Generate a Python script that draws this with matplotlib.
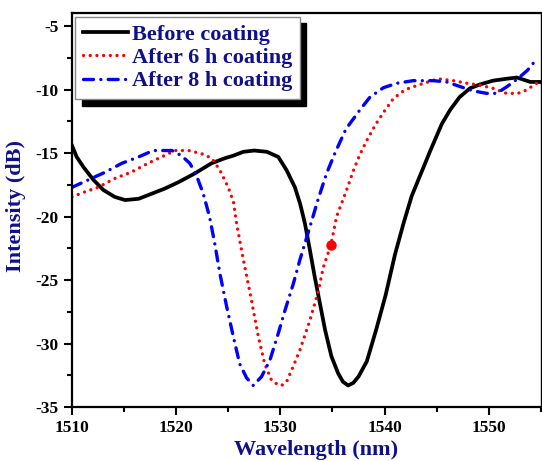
import numpy as np
import matplotlib
matplotlib.use("Agg")
import matplotlib.pyplot as plt
from matplotlib.ticker import MultipleLocator

plt.rcParams['font.family'] = ['Liberation Serif', 'DejaVu Serif']
plt.rcParams['font.weight'] = 'bold'
plt.rcParams['axes.unicode_minus'] = False

### data
before_x = [1510.0, 1510.45, 1511.1, 1512.05, 1513.0, 1514.1, 1515.1, 1516.4, 1517.65, 1518.9,
            1520.2, 1521.8, 1523.4, 1524.7, 1525.5, 1526.45, 1527.5, 1528.7, 1529.8, 1530.6,
            1531.4, 1531.9, 1532.36, 1532.84, 1533.3, 1533.8, 1534.3, 1534.9, 1535.55, 1536.0,
            1536.5, 1537.0, 1537.5, 1538.3, 1539.2, 1540.1, 1541.0, 1541.8, 1542.6, 1543.4,
            1544.4, 1545.5, 1546.3, 1547.2, 1548.2, 1549.15, 1550.4, 1551.7, 1552.7, 1554.0, 1555.0]
before_y = [-14.4, -15.3, -16.1, -17.1, -17.9, -18.45, -18.7, -18.6, -18.2, -17.8,
            -17.3, -16.6, -15.8, -15.4, -15.2, -14.9, -14.8, -14.9, -15.3, -16.35,
            -17.7, -19.0, -20.55, -22.65, -24.75, -26.85, -28.95, -31.0, -32.35, -33.0,
            -33.3, -33.1, -32.6, -31.4, -28.9, -26.2, -23.0, -20.6, -18.4, -16.8,
            -14.8, -12.7, -11.6, -10.6, -9.9, -9.6, -9.3, -9.15, -9.05, -9.4, -9.4]

h6_x = [1510.0, 1511.25, 1512.5, 1514.1, 1515.7, 1517.3, 1518.6, 1519.9, 1521.2, 1522.45,
        1523.4, 1524.2, 1525.0, 1525.5, 1525.8, 1526.4, 1527.1, 1527.9, 1528.5, 1529.16,
        1529.7, 1530.12, 1530.6, 1531.08, 1531.88, 1532.84, 1533.64, 1534.12, 1534.86, 1535.4,
        1536.36, 1537.0, 1537.64, 1538.3, 1539.1, 1539.9, 1540.85, 1542.0, 1543.4, 1545.15,
        1546.6, 1547.9, 1549.15, 1550.4, 1551.7, 1552.8, 1553.6, 1554.6, 1555.0]
h6_y = [-18.45, -18.05, -17.7, -17.0, -16.5, -15.8, -15.3, -14.8, -14.8, -15.05,
        -15.4, -16.35, -17.7, -18.85, -20.55, -23.2, -26.05, -29.5, -31.6, -32.9,
        -33.2, -33.3, -33.0, -32.1, -30.5, -28.15, -25.9, -24.0, -22.2, -20.0,
        -17.9, -16.4, -15.1, -14.0, -12.8, -11.8, -10.7, -10.0, -9.6, -9.15,
        -9.3, -9.5, -9.65, -9.9, -10.3, -10.3, -10.05, -9.5, -9.4]

h8_x = [1510.0, 1511.6, 1513.2, 1514.8, 1516.4, 1517.8, 1518.6, 1519.6, 1520.5, 1521.3,
        1521.8, 1522.1, 1522.6, 1523.2, 1523.7, 1524.2, 1524.85, 1525.5, 1526.1, 1526.76,
        1527.4, 1528.2, 1529.0, 1529.8, 1530.44, 1531.24, 1531.88, 1532.84, 1533.64, 1534.44,
        1535.24, 1536.3, 1537.64, 1538.6, 1539.9, 1541.2, 1542.75, 1544.7, 1545.95, 1547.2,
        1548.5, 1549.8, 1550.75, 1551.7, 1552.7, 1553.7, 1554.6]
h8_y = [-17.7, -17.1, -16.5, -15.8, -15.3, -14.8, -14.8, -14.8, -15.2, -15.8,
        -16.5, -17.1, -18.2, -20.0, -22.1, -24.5, -27.1, -29.5, -31.6, -32.7,
        -33.3, -32.6, -31.3, -29.2, -27.4, -25.3, -23.4, -20.8, -18.6, -16.6,
        -15.0, -13.1, -11.6, -10.6, -9.85, -9.5, -9.3, -9.3, -9.4, -9.75,
        -10.1, -10.3, -10.3, -9.8, -9.2, -8.5, -7.6]

marker_x = [1534.86]
marker_y = [-22.2]

labels = ["Before coating", "After 6 h coating", "After 8 h coating"]
navy = '#10108c'

fig = plt.figure(figsize=(5.42, 4.61), dpi=100)
ax = fig.add_axes([0.1328, 0.117, 0.865, 0.854])

ax.plot(before_x, before_y, color='black', linewidth=2.7, label=labels[0])
ax.plot(h6_x, h6_y, color='red', linewidth=2.4, linestyle=(0, (0.01, 2.0)),
        dash_capstyle='round', label=labels[1])
ax.plot(h8_x, h8_y, color='blue', linewidth=2.4, linestyle=(0, (3.0, 2.2, 0.01, 2.2)),
        dash_capstyle='round', label=labels[2])
ax.plot(marker_x, marker_y, 'o', color='red', markersize=6.5)

ax.set_xlim(1510, 1555)
ax.set_ylim(-35, -4)
ax.xaxis.set_major_locator(MultipleLocator(10))
ax.xaxis.set_minor_locator(MultipleLocator(5))
ax.yaxis.set_major_locator(MultipleLocator(5))
ax.yaxis.set_minor_locator(MultipleLocator(2.5))
ax.tick_params(which='major', direction='out', length=6, width=1.5, labelsize=12.5)
ax.tick_params(which='minor', direction='out', length=3.5, width=1.5)

for s in ['left', 'bottom', 'top']:
    ax.spines[s].set_linewidth(1.6)
ax.spines['right'].set_linewidth(1.0)

ax.set_xlabel("Wavelength (nm)", fontsize=16, fontweight='bold', color=navy)
ax.set_ylabel("Intensity (dB)", fontsize=16, fontweight='bold', color=navy)
ax.xaxis.set_label_coords(0.52, -0.084)
ax.yaxis.set_label_coords(-0.098, 0.51)

leg = ax.legend(loc='upper left', bbox_to_anchor=(0.0, 1.0), fontsize=16,
                frameon=True, fancybox=False, borderaxespad=0.15,
                handlelength=2.0, handletextpad=0.2, labelspacing=0.12, borderpad=0.35,
                shadow={'ox': 4.5, 'oy': -4.5, 'facecolor': 'black', 'edgecolor': 'black', 'alpha': 1})
leg.get_frame().set_edgecolor('#888888')
leg.get_frame().set_linewidth(1.0)
for t in leg.get_texts():
    t.set_color(navy)
    t.set_fontweight('bold')

fig.savefig("out.png", dpi=100)
